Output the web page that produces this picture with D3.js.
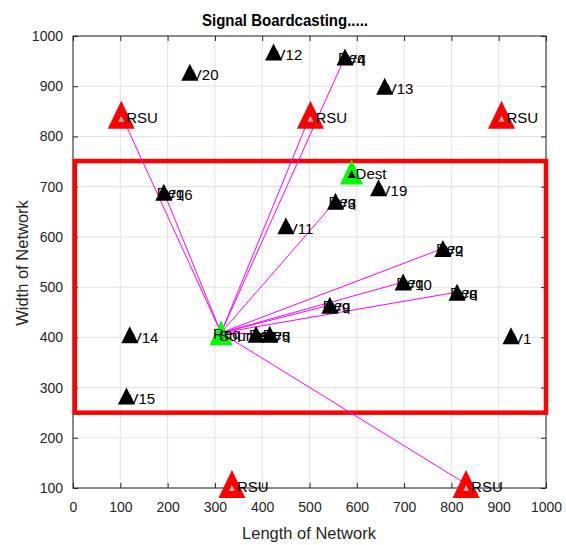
<!DOCTYPE html>
<html>
<head>
<meta charset="utf-8">
<script src="https://cdn.jsdelivr.net/npm/d3@7"></script>
<style>
  body { margin: 0; background: #fff; }
  svg { font-family: "Liberation Sans", Arial, sans-serif; }
</style>
</head>
<body>
<svg width="566" height="545"></svg>
<script>
// axis ticks
const xTicks = [0, 100, 200, 300, 400, 500, 600, 700, 800, 900, 1000];
const yTicks = [100, 200, 300, 400, 500, 600, 700, 800, 900, 1000];

// ordinary vehicles (not reached)
const plainNames = ['V1', 'V11', 'V12', 'V13', 'V14', 'V15', 'V19', 'V20'];
const plainX = [926, 450, 424, 659, 120, 113, 646, 247];
const plainY = [403, 622, 968, 900, 405, 283, 698, 928];

// vehicles that got a request
const reqNames = ['V4', 'V3', 'V16', 'V2', 'V10', 'V8', 'V9', 'V7', 'V5'];
const reqX = [575, 555, 192, 782, 698, 812, 543, 387, 416];
const reqY = [958, 671, 689, 577, 510, 490, 464, 406, 406];

// road side units
const rsuX = [102, 502, 906, 336, 831];
const rsuY = [843, 843, 843, 108, 108];
const rsuLinked = [true, true, false, false, true];

// source and destination
const srcX = 313, srcY = 409;
const dstX = 589, dstY = 729;

// zone box  [x0, y0, x1, y1]
const zone = [4, 250, 1000, 751];

const svg = d3.select('svg');

var x = d3.scaleLinear().domain([0, 1000]).range([73, 546]);
var y = d3.scaleLinear().domain([100, 1000]).range([488, 36]);

// grid
svg.append('g')
  .selectAll('line').data(xTicks).enter().append('line')
  .attr('x1', d => x(d)).attr('x2', d => x(d))
  .attr('y1', y(100)).attr('y2', y(1000))
  .attr('stroke', '#e3e3e3');
svg.append('g')
  .selectAll('line').data(yTicks).enter().append('line')
  .attr('y1', d => y(d)).attr('y2', d => y(d))
  .attr('x1', x(0)).attr('x2', x(1000))
  .attr('stroke', '#e3e3e3');

// axes (ticks inside, like matlab)
function styleAxis(g) {
  g.select('.domain').remove();
  g.selectAll('line').attr('stroke', '#262626');
  g.selectAll('text').attr('fill', '#262626').style('font-size', '14px')
    .style('font-family', '"Liberation Sans", Arial, sans-serif');
}
var fmt = d3.format('d');
svg.append('g').attr('transform', 'translate(0,' + y(100) + ')')
  .call(d3.axisBottom(x).tickValues(xTicks).tickFormat(fmt).tickSize(-5).tickPadding(14)).call(styleAxis);
svg.append('g').attr('transform', 'translate(' + x(0) + ',0)')
  .call(d3.axisLeft(y).tickValues(yTicks).tickFormat(fmt).tickSize(-5).tickPadding(10)).call(styleAxis);
svg.append('g').attr('transform', 'translate(0,' + y(1000) + ')')
  .call(d3.axisTop(x).tickValues(xTicks).tickSize(-5).tickFormat('')).call(styleAxis);
svg.append('g').attr('transform', 'translate(' + x(1000) + ',0)')
  .call(d3.axisRight(y).tickValues(yTicks).tickSize(-5).tickFormat('')).call(styleAxis);

svg.append('rect')
  .attr('x', x(0)).attr('y', y(1000))
  .attr('width', x(1000) - x(0)).attr('height', y(100) - y(1000))
  .attr('fill', 'none').attr('stroke', '#262626');

// red zone
svg.append('rect')
  .attr('x', x(zone[0])).attr('y', y(zone[3]))
  .attr('width', x(zone[2]) - x(zone[0])).attr('height', y(zone[1]) - y(zone[3]))
  .attr('fill', 'none').attr('stroke', '#ff0000').attr('stroke-width', 4.5);

// broadcast lines from the source
var targets = [];
rsuX.forEach((v, i) => { if (rsuLinked[i]) targets.push([v, rsuY[i]]); });
reqX.forEach((v, i) => targets.push([v, reqY[i]]));
svg.append('g').selectAll('line').data(targets).enter().append('line')
  .attr('x1', x(srcX)).attr('y1', y(srcY))
  .attr('x2', d => x(d[0])).attr('y2', d => y(d[1]))
  .attr('stroke', '#ff00ff').attr('stroke-width', 1);

function tri(cx, cy, w, h) {
  return 'M' + cx + ',' + (cy - h / 2) + 'L' + (cx + w / 2) + ',' + (cy + h / 2) +
    'L' + (cx - w / 2) + ',' + (cy + h / 2) + 'Z';
}

const labelFont = '15px';
var marks = svg.append('g');
var labels = svg.append('g').style('font-size', labelFont).attr('fill', '#000');

// plain vehicles
plainX.forEach((v, i) => {
  marks.append('path').attr('d', tri(x(v), y(plainY[i]), 17, 17)).attr('fill', '#000');
  labels.append('text').attr('x', x(v) + 2).attr('y', y(plainY[i]) + 8).text(plainNames[i]);
});

// request vehicles: name and "Req" overprinted
reqX.forEach((v, i) => {
  marks.append('path').attr('d', tri(x(v), y(reqY[i]), 17, 17)).attr('fill', '#000');
  labels.append('text').attr('x', x(v) + 2).attr('y', y(reqY[i]) + 8).text(reqNames[i]);
  labels.append('text').attr('x', x(v) - 7).attr('y', y(reqY[i]) + 6).text('Req');
});

// source
marks.append('path').attr('d', tri(x(srcX), y(srcY), 23, 25)).attr('fill', '#00ff00');
labels.append('text').attr('x', x(srcX) - 2).attr('y', y(srcY) + 8).text('Source');
labels.append('text').attr('x', x(srcX) - 8).attr('y', y(srcY) + 6).text('Req');

// destination
marks.append('path').attr('d', tri(x(dstX), y(dstY), 23, 25)).attr('fill', '#00ff00');
marks.append('path').attr('d', tri(x(dstX), y(dstY) + 2, 8, 8)).attr('fill', '#000');
labels.append('text').attr('x', x(dstX) + 4).attr('y', y(dstY) + 7).text('Dest');

// RSUs
rsuX.forEach((v, i) => {
  marks.append('path').attr('d', tri(x(v), y(rsuY[i]), 27, 28)).attr('fill', '#ff0000');
  marks.append('path').attr('d', tri(x(v), y(rsuY[i]) + 4, 6, 6)).attr('fill', '#b0b0b0');
  labels.append('text').attr('x', x(v) + 5).attr('y', y(rsuY[i]) + 8).text('RSU');
});

// titles
svg.append('text').attr('x', 285).attr('y', 26).attr('text-anchor', 'middle')
  .style('font-size', '17px').style('font-weight', 'bold')
  .attr('textLength', 166).attr('lengthAdjust', 'spacingAndGlyphs')
  .text('Signal Boardcasting.....');
svg.append('text').attr('x', 309).attr('y', 539).attr('text-anchor', 'middle')
  .style('font-size', '16.5px').attr('fill', '#262626').text('Length of Network');
svg.append('text').attr('transform', 'translate(28,263) rotate(-90)').attr('text-anchor', 'middle')
  .style('font-size', '16.5px').attr('fill', '#262626').text('Width of Network');
</script>
</body>
</html>
